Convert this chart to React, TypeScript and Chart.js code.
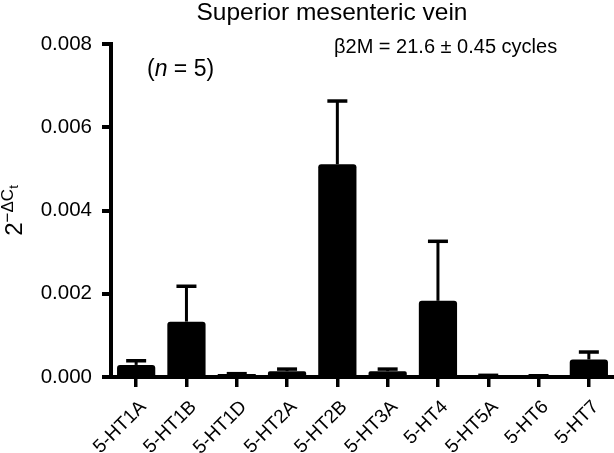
import React, { useEffect, useRef } from "react";
import { Chart, registerables } from "chart.js";

Chart.register(...registerables);

const categories = ["5-HT1A", "5-HT1B", "5-HT1D", "5-HT2A", "5-HT2B", "5-HT3A", "5-HT4", "5-HT5A", "5-HT6", "5-HT7"];
const means = [0.00029, 0.00133, 0.00007, 0.00014, 0.00511, 0.00014, 0.00183, 0.00003, 0.00002, 0.00042];
const errors = [0.0001, 0.00085, 0.00001, 0.00005, 0.00152, 0.00005, 0.00143, 0.00001, 0.00001, 0.00018];
const yTicks = [0, 0.002, 0.004, 0.006, 0.008];
const titleText = "Superior mesenteric vein";
const refText = "\u03b22M = 21.6 \u00b1 0.45 cycles";

const FONT = "'Liberation Sans', Arial, Helvetica, sans-serif";

const errorBarPlugin = {
  id: "errorBars",
  afterDatasetsDraw(chart: any) {
    const ctx = chart.ctx;
    const meta = chart.getDatasetMeta(0);
    const yScale = chart.scales.y;
    ctx.save();
    ctx.strokeStyle = "#000";
    meta.data.forEach((bar: any, i: number) => {
      const top = yScale.getPixelForValue(means[i] + errors[i]);
      const x = bar.x;
      ctx.lineWidth = 3;
      ctx.lineCap = "butt";
      ctx.beginPath();
      ctx.moveTo(x, bar.y);
      ctx.lineTo(x, top);
      ctx.stroke();
      ctx.lineWidth = 3.5;
      ctx.beginPath();
      ctx.moveTo(x - 10, top);
      ctx.lineTo(x + 10, top);
      ctx.stroke();
    });
    ctx.restore();
  },
};

const textPlugin = {
  id: "texts",
  afterDraw(chart: any) {
    const ctx = chart.ctx;
    const area = chart.chartArea;
    ctx.save();
    ctx.fillStyle = "#000";
    // title
    ctx.font = `24.5px ${FONT}`;
    ctx.textAlign = "center";
    ctx.textBaseline = "alphabetic";
    ctx.fillText(titleText, 332, 20);
    // reference gene text
    ctx.font = `20px ${FONT}`;
    ctx.textAlign = "left";
    ctx.textBaseline = "middle";
    ctx.fillText(refText, 334, 47);
    // (n = 5)
    const fs = 23;
    ctx.font = `${fs}px ${FONT}`;
    let x = 147;
    const y = 70;
    ctx.fillText("(", x, y);
    x += ctx.measureText("(").width;
    ctx.font = `italic ${fs}px ${FONT}`;
    ctx.fillText("n", x, y);
    x += ctx.measureText("n").width;
    ctx.font = `${fs}px ${FONT}`;
    ctx.fillText(" = 5)", x, y);
    // y axis title: 2^(-ΔCt)
    const cy = (area.top + area.bottom) / 2;
    ctx.translate(22, cy);
    ctx.rotate(-Math.PI / 2);
    ctx.textBaseline = "alphabetic";
    ctx.font = `24px ${FONT}`;
    const w2 = ctx.measureText("2").width;
    ctx.font = `17px ${FONT}`;
    const wSup = ctx.measureText("\u2212\u0394C").width;
    ctx.font = `13px ${FONT}`;
    const wSub = ctx.measureText("t").width;
    const total = w2 + wSup + wSub;
    let lx = -total / 2;
    ctx.font = `24px ${FONT}`;
    ctx.fillText("2", lx, 0);
    lx += w2;
    ctx.font = `17px ${FONT}`;
    ctx.fillText("\u2212\u0394C", lx, -9);
    lx += wSup;
    ctx.font = `13px ${FONT}`;
    ctx.fillText("t", lx, -4);
    ctx.restore();
  },
};

export default function App() {
  const ref = useRef<HTMLCanvasElement>(null);
  useEffect(() => {
    if (!ref.current) return;
    Chart.defaults.font.family = FONT;
    const chart = new Chart(ref.current, {
      type: "bar",
      data: {
        labels: categories,
        datasets: [
          {
            data: means,
            backgroundColor: "#000",
            borderColor: "#000",
            borderWidth: 0,
            borderRadius: 3,
            barPercentage: 0.76,
            categoryPercentage: 1,
          },
        ],
      },
      options: {
        responsive: false,
        animation: false,
        devicePixelRatio: 1,
        layout: { padding: { top: 44, left: 0, right: 0, bottom: 0 } },
        plugins: {
          legend: { display: false },
          tooltip: { enabled: false },
          title: { display: false },
        },
        scales: {
          x: {
            type: "category",
            offset: true,
            grid: {
              display: true,
              drawOnChartArea: false,
              drawTicks: true,
              tickLength: 10,
              lineWidth: 3.5,
              color: "#000",
              offset: false,
            },
            border: { display: true, width: 4, color: "#000" },
            ticks: {
              color: "#000",
              font: { size: 19, family: FONT },
              maxRotation: 45,
              minRotation: 45,
              padding: 9,
              labelOffset: 7,
              autoSkip: false,
            },
            afterFit: (s: any) => {
              s.height = 76;
            },
          },
          y: {
            min: 0,
            max: 0.008,
            afterBuildTicks: (s: any) => {
              s.ticks = yTicks.map((v) => ({ value: v }));
            },
            ticks: {
              color: "#000",
              font: { size: 20.5, family: FONT },
              padding: 10,
              callback: (v: any) => Number(v).toFixed(3),
            },
            grid: {
              display: true,
              drawOnChartArea: false,
              tickLength: 9,
              lineWidth: 4,
              color: "#000",
            },
            border: { display: true, width: 4, color: "#000" },
            afterFit: (s: any) => {
              s.width = 111;
            },
          },
        },
      },
      plugins: [errorBarPlugin, textPlugin],
    });
    return () => chart.destroy();
  }, []);
  return (
    <div style={{ position: "absolute", left: 0, top: 0, width: 614, height: 453, background: "#fff" }}>
      <canvas ref={ref} width={614} height={453} style={{ width: 614, height: 453, display: "block" }} />
    </div>
  );
}
